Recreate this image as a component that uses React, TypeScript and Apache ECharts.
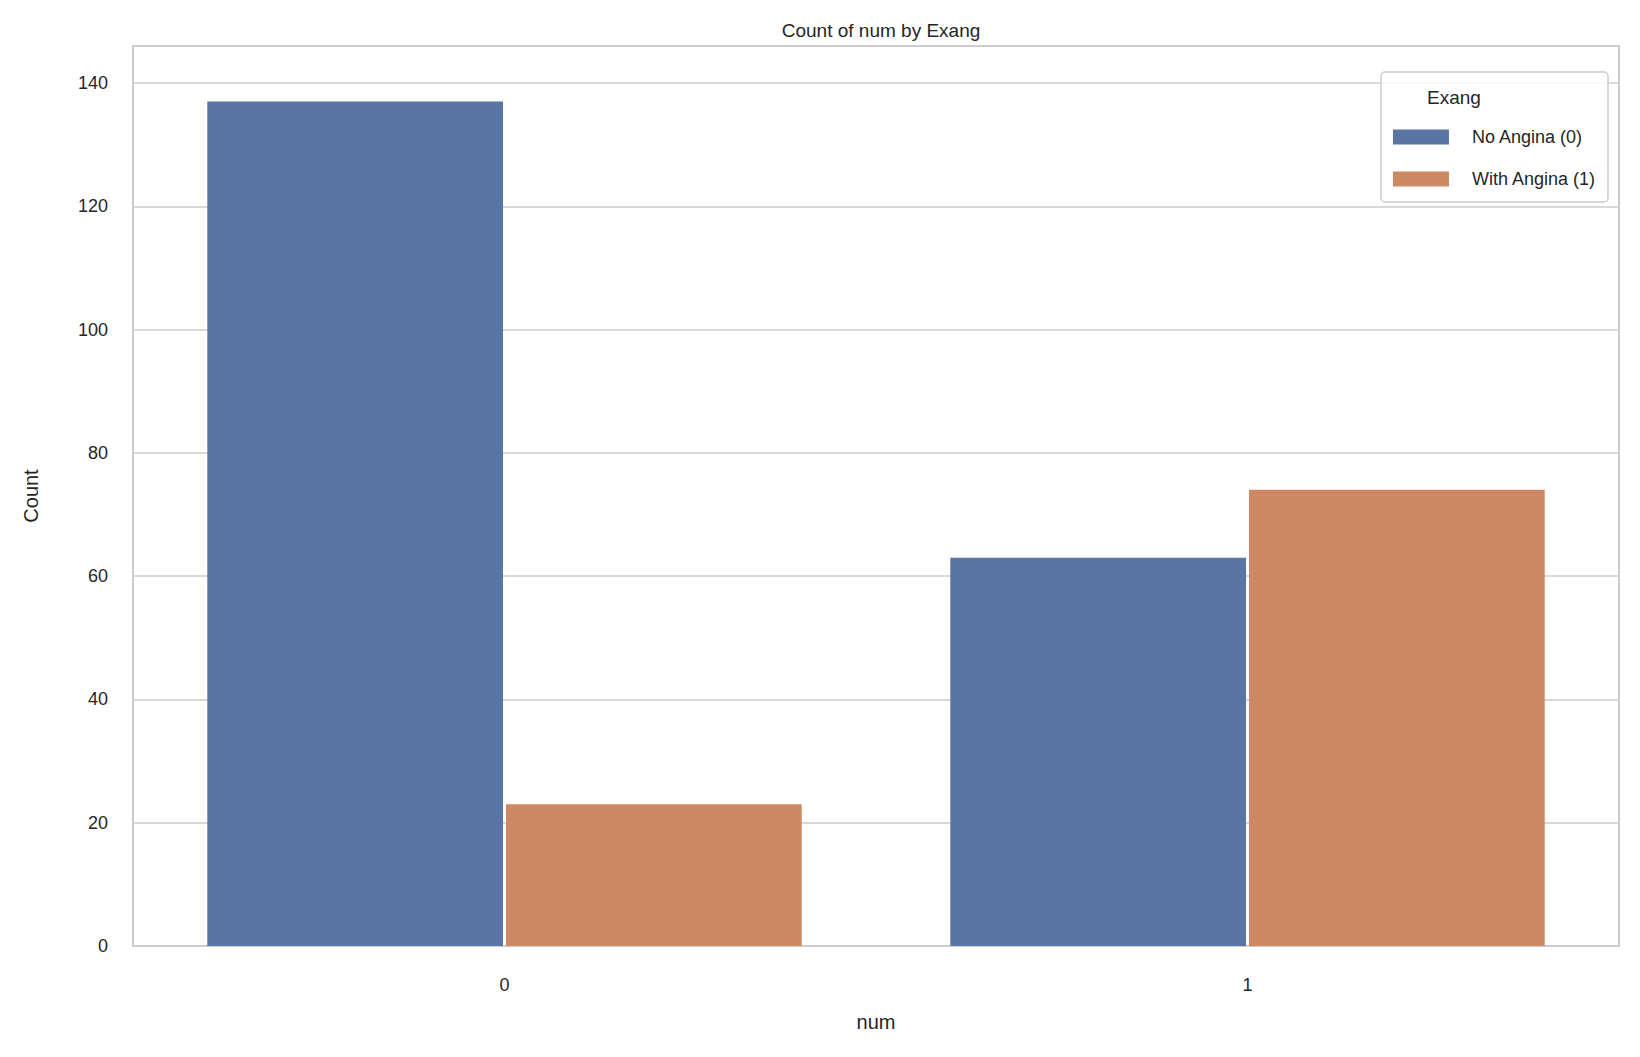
import * as echarts from 'echarts';
import { useEffect, useRef } from 'react';

const categories = ['0', '1'];
const noAngina = [137, 63];
const withAngina = [23, 74];
const seriesNames = ['No Angina (0)', 'With Angina (1)'];
const FONT = 'Liberation Sans, Arial, sans-serif';

export default function App() {
  const ref = useRef<HTMLDivElement>(null);

  useEffect(() => {
    if (!ref.current) return;
    const chart = echarts.init(ref.current, undefined, { renderer: 'svg' });
    chart.setOption({
      animation: false,
      backgroundColor: '#ffffff',
      textStyle: { fontFamily: FONT },
      title: {
        text: 'Count of num by Exang',
        left: 876,
        textAlign: 'center',
        top: 16,
        textStyle: { fontSize: 19, fontWeight: 'normal', color: '#262626', fontFamily: FONT },
      },
      grid: {
        left: 133, right: 21, top: 46, bottom: 111,
        show: true, borderColor: '#cccccc', borderWidth: 2, backgroundColor: 'transparent',
      },
      legend: {
        orient: 'vertical',
        right: 32,
        top: 72,
        padding: [56, 12, 14, 12],
        borderColor: '#cccccc',
        borderWidth: 1.5,
        borderRadius: 4,
        backgroundColor: 'rgba(255,255,255,0.8)',
        itemWidth: 56,
        itemHeight: 15,
        itemGap: 24,
        icon: 'rect',
        textStyle: { fontSize: 18, color: '#262626', fontFamily: FONT, padding: [0, 0, 0, 18] },
        data: seriesNames,
      },
      graphic: [{
        type: 'text', x: 1454, y: 97, z: 100,
        style: { text: 'Exang', fontSize: 19, fill: '#262626', fontFamily: FONT, align: 'center', verticalAlign: 'middle' },
      }],
      xAxis: {
        type: 'category',
        data: categories,
        name: 'num',
        nameLocation: 'middle',
        nameGap: 66,
        nameTextStyle: { fontSize: 20, color: '#262626' },
        axisLine: { show: false },
        axisTick: { show: false },
        axisLabel: { fontSize: 18, color: '#262626', margin: 30 },
      },
      yAxis: {
        type: 'value',
        min: 0, max: 146, interval: 20,
        name: 'Count',
        nameLocation: 'middle',
        nameGap: 92,
        nameTextStyle: { fontSize: 20, color: '#262626' },
        axisLine: { show: false },
        axisTick: { show: false },
        axisLabel: { fontSize: 18, color: '#262626', margin: 25, showMaxLabel: false },
        splitLine: { lineStyle: { color: '#cccccc', width: 1.5 } },
      },
      series: [
        {
          name: seriesNames[0], type: 'bar', data: noAngina,
          barCategoryGap: '20%', barGap: '1%',
          itemStyle: { color: '#5875a4' },
        },
        {
          name: seriesNames[1], type: 'bar', data: withAngina,
          barCategoryGap: '20%', barGap: '1%',
          itemStyle: { color: '#cc8963' },
        },
      ],
    });
    return () => chart.dispose();
  }, []);

  return <div ref={ref} style={{ position: 'absolute', left: 0, top: 0, width: 1640, height: 1057 }} />;
}
